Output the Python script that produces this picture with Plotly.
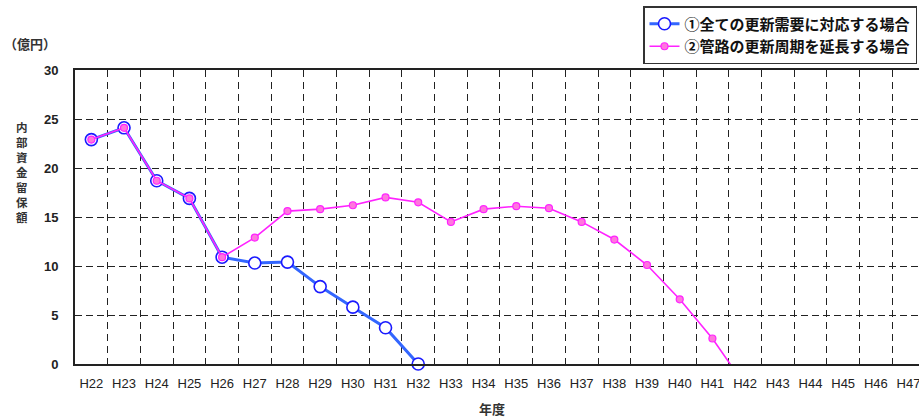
import plotly.graph_objects as go

years = ["H22", "H23", "H24", "H25", "H26", "H27", "H28", "H29", "H30", "H31", "H32",
         "H33", "H34", "H35", "H36", "H37", "H38", "H39", "H40", "H41", "H42",
         "H43", "H44", "H45", "H46", "H47"]

s1_name = "①全ての更新需要に対応する場合"
s1_years = years[:11]
s1_vals = [22.9, 24.1, 18.7, 16.9, 10.9, 10.3, 10.4, 7.9, 5.8, 3.7, 0.0]

s2_name = "②管路の更新周期を延長する場合"
s2_years = years[:21]
s2_vals = [22.9, 24.1, 18.7, 16.9, 10.9, 12.9, 15.6, 15.8, 16.2, 17.0, 16.5,
           14.5, 15.8, 16.1, 15.9, 14.5, 12.7, 10.1, 6.6, 2.6, -2.2]

y_title = "内部資金留保額"

JP = "Noto Sans CJK JP"
LAT = "Liberation Sans, Arial, Noto Sans CJK JP"

fig = go.Figure()
fig.add_trace(go.Scatter(
    x=s1_years, y=s1_vals, name=s1_name, mode="lines+markers",
    line=dict(color="#3366ff", width=3),
    marker=dict(size=12, color="white", line=dict(color="#1a1aff", width=1.6)),
    cliponaxis=False,
))
fig.add_trace(go.Scatter(
    x=s2_years, y=s2_vals, name=s2_name, mode="lines+markers",
    line=dict(color="#ff22ff", width=1.6),
    marker=dict(size=7, color="#ff77dd", line=dict(color="#ff22ff", width=1.2)),
    cliponaxis=True,
))

fig.update_layout(
    width=919, height=418,
    margin=dict(l=75, r=0, t=70, b=54),
    paper_bgcolor="white", plot_bgcolor="white",
    showlegend=True,
    legend=dict(
        x=(643 - 75) / 844, y=1 + (70 - 6) / 294, xanchor="left", yanchor="top",
        bgcolor="white", bordercolor="#333333", borderwidth=1.5,
        font=dict(family=JP, size=15, color="#111111", weight=700),
        tracegroupgap=0, itemwidth=30,
    ),
    xaxis=dict(
        type="category", categoryorder="array", categoryarray=years,
        range=[-0.5, 25.32], tickson="boundaries",
        showgrid=True, gridcolor="#222222", gridwidth=1, griddash="7px,5px",
        showline=True, linecolor="#222222", linewidth=2, mirror=True,
        ticks="", tickfont=dict(family=LAT, size=13, color="#222222"),
        ticklabelstandoff=6,
    ),
    yaxis=dict(
        range=[0, 30], dtick=5, tick0=0,
        showgrid=True, gridcolor="#222222", gridwidth=1, griddash="7px,4px",
        zeroline=False,
        showline=True, linecolor="#222222", linewidth=2,
        ticks="", tickfont=dict(family=LAT, size=13, color="#222222", weight=700),
        ticklabelstandoff=12,
    ),
)

annos = [
    dict(
        text="<br>".join(list(y_title)), xref="paper", yref="paper",
        x=(22 - 75) / 844, y=1 - (172 - 70) / 294,
        xanchor="center", yanchor="middle", showarrow=False,
        font=dict(family=JP, size=11.5, color="#333333", weight=700),
    ),
    dict(
        text="（億円）", xref="paper", yref="paper",
        x=(30 - 75) / 844, y=1 + (70 - 44) / 294,
        xanchor="center", yanchor="middle", showarrow=False,
        font=dict(family=JP, size=13, color="#333333", weight=700),
    ),
    dict(
        text="年度", xref="paper", yref="paper",
        x=(492 - 75) / 844, y=-(408 - 364) / 294,
        xanchor="center", yanchor="middle", showarrow=False,
        font=dict(family=JP, size=13, color="#333333", weight=700),
    ),
]
fig.update_layout(annotations=annos)

fig.write_html("out.html")
